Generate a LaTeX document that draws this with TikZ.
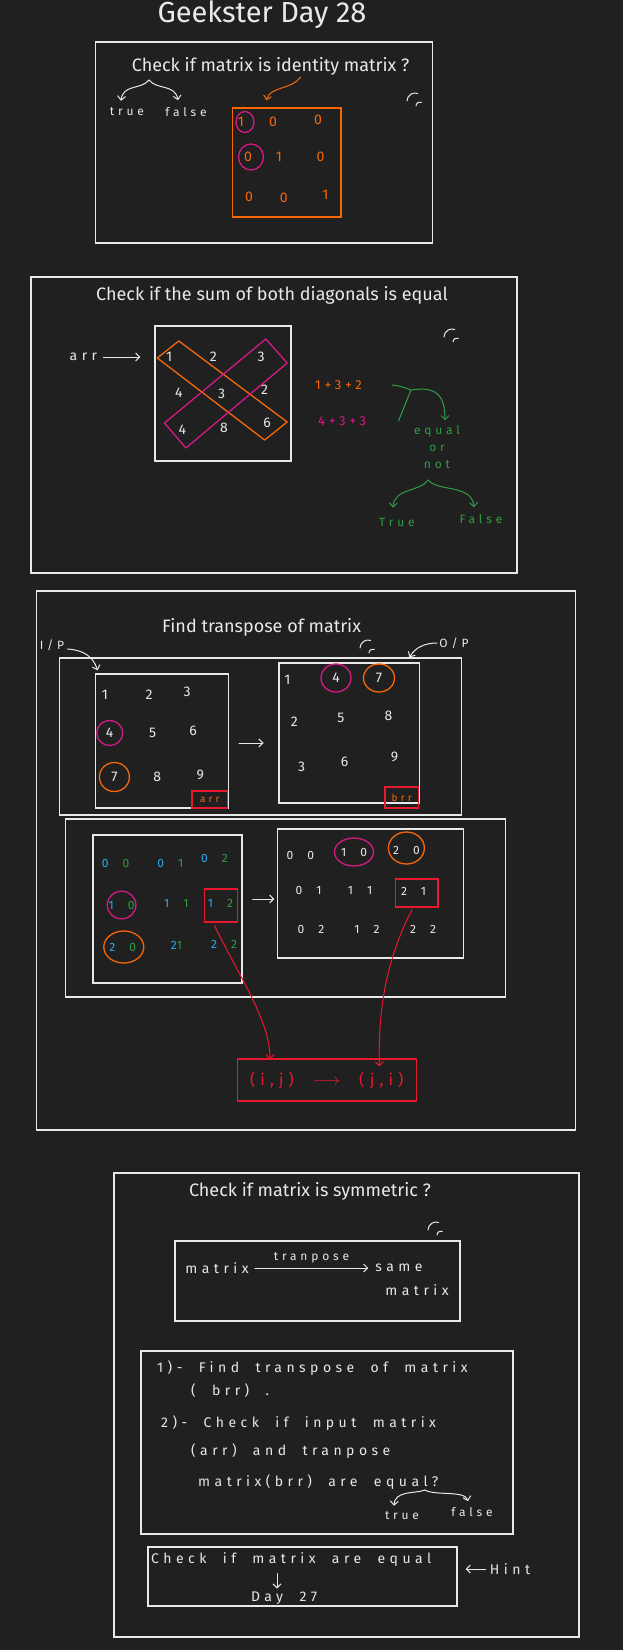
\documentclass[tikz,border=0pt]{standalone}
\usepackage{fontspec}
\setmainfont{Fira Sans}
\newfontfamily\handfont[LetterSpace=32,WordSpace=2]{Fira Sans}
\usetikzlibrary{arrows.meta,shapes.geometric,positioning,calc}
\definecolor{boardbg}{RGB}{32,32,32}
\definecolor{chalk}{RGB}{232,232,232}
\definecolor{markorange}{RGB}{247,103,7}
\definecolor{markpink}{RGB}{214,26,133}
\definecolor{markgreen}{RGB}{47,158,68}
\definecolor{markcyan}{RGB}{45,170,235}
\definecolor{markred}{RGB}{232,25,45}

\begin{document}
\begin{tikzpicture}[x=1pt,y=-1pt,
  frame/.style={draw=chalk,line width=1.3pt,inner sep=0pt},
  redbox/.style={draw=markred,line width=1.3pt,inner sep=0pt},
  heading/.style={text=chalk,font=\fontsize{18}{20}\selectfont},
  hand/.style={text=chalk,font=\handfont\fontsize{14}{16}\selectfont,inner sep=1pt},
  small/.style={hand,font=\handfont\fontsize{12}{14}\selectfont},
  entry/.style={text=chalk,font=\fontsize{14}{16}\selectfont,inner sep=1pt},
  idx/.style={text=chalk,font=\handfont\fontsize{12}{14}\selectfont,inner sep=1pt},
  chalkline/.style={draw=chalk,line width=1pt,line cap=round},
  arrow/.style={-{Straight Barb[length=4pt,width=8pt]},line width=1pt,color=chalk,line cap=round},
  oarrow/.style={arrow,color=markorange},
  garrow/.style={arrow,color=markgreen},
  rarrow/.style={arrow,color=markred}
]
\fill[boardbg] (0,0) rectangle (623,1650);
\useasboundingbox (0,0) rectangle (623,1650);

\node[text=chalk,font=\fontsize{29}{31}\selectfont] (title) at (262,15) {Geekster Day 28};

\node[frame,minimum width=337pt,minimum height=201pt] (box1) at (264,142.5) {};
\node[heading] (q1) at (270.6,66) {Check if matrix is identity matrix ?};
\coordinate (b1top) at (149,80);
\node[small] (t1) at (127,112) {true};
\node[small] (f1) at (186,112) {false};
\draw[arrow] (b1top) .. controls (141,90) and (123,84) .. ([xshift=-6pt,yshift=6pt]t1.north);
\draw[arrow] (b1top) .. controls (157,90) and (175,84) .. ([xshift=-8pt,yshift=6pt]f1.north);
\node[draw=markorange,line width=1.3pt,minimum width=108.5pt,minimum height=109pt] (omat) at (286.7,162.5) {};
\coordinate (oa) at (300.4,77);
\draw[oarrow] (oa) .. controls (292,90) and (270,86) .. ([xshift=34.6pt,yshift=7pt]omat.north west);
\node[entry,text=markorange] (m11) at (241,122) {1};
\node[entry,text=markorange] (m12) at (273,122) {0};
\node[entry,text=markorange] (m13) at (318,120) {0};
\node[entry,text=markorange] (m21) at (248,157) {0};
\node[entry,text=markorange] (m22) at (279,157) {1};
\node[entry,text=markorange] (m23) at (320.6,157) {0};
\node[entry,text=markorange] (m31) at (249,197) {0};
\node[entry,text=markorange] (m32) at (283.7,198) {0};
\node[entry,text=markorange] (m33) at (325.4,195) {1};
\draw[markpink,line width=1.3pt] ([xshift=4pt]m11.center) ellipse [x radius=9pt,y radius=10.5pt];
\draw[markpink,line width=1.3pt] ([xshift=3pt]m21.center) ellipse [x radius=12.5pt,y radius=13pt];
\draw[chalkline] (407,101) arc[start angle=180,end angle=70,radius=8pt];
\draw[chalkline] (416,106) arc[start angle=180,end angle=70,radius=4pt];

\node[frame,minimum width=486pt,minimum height=296pt] (box2) at (274,425) {};
\node[heading] (q2) at (272,295) {Check if the sum of both diagonals is equal};
\draw[chalkline] (444,337) arc[start angle=180,end angle=70,radius=8pt];
\draw[chalkline] (453,342) arc[start angle=180,end angle=70,radius=4pt];
\node[hand] (arrlbl) at (83.4,357) {arr};
\node[frame,minimum width=136pt,minimum height=135pt] (dmat) at (223,393.5) {};
\draw[arrow] ([xshift=5pt]arrlbl.east) -- ([xshift=-14pt]arrlbl.east -| dmat.west);
\draw[markorange,line width=1.3pt,line join=round] (157.3,358) -- (178.8,341) -- (287.2,422) -- (264.6,440) -- cycle;
\draw[markpink,line width=1.3pt,line join=round] (164.5,423) -- (265.8,339) -- (287.2,363) -- (185.9,448) -- cycle;
\node[entry] (d11) at (169.2,357) {1};
\node[entry] (d12) at (213.3,357) {2};
\node[entry] (d13) at (261,357) {3};
\node[entry] (d21) at (178.8,393) {4};
\node[entry] (d22) at (221.7,394) {3};
\node[entry] (d23) at (264.6,390) {2};
\node[entry] (d31) at (182.4,430) {4};
\node[entry] (d32) at (224,428) {8};
\node[entry] (d33) at (267,423) {6};
\node[hand,text=markorange,anchor=west,font=\handfont\fontsize{13}{15}\selectfont] (sum1) at (314,385) {1+3+2};
\node[hand,text=markpink,anchor=west,font=\handfont\fontsize{13}{15}\selectfont] (sum2) at (317,421) {4+3+3};
\coordinate (gfork) at (411,390);
\node[small,text=markgreen,align=center,font=\handfont\fontsize{12}{17}\selectfont] (eqnode) at (437,447) {equal\\or\\not};
\draw[markgreen,line width=1pt] (sum1.east -| 392,0) .. controls (400,386) .. (gfork);
\draw[markgreen,line width=1pt] (gfork) -- (sum2.east -| 398.5,0);
\draw[garrow] (gfork) .. controls (436,386) and (445,395) .. ([xshift=8pt,yshift=4pt]eqnode.north);
\coordinate (gsplit) at (428,480);
\node[small,text=markgreen] (trueg) at (397,522) {True};
\node[small,text=markgreen] (falseg) at (481,519) {False};
\draw[garrow] (gsplit) .. controls (420,492) and (394,488) .. ([xshift=-4pt,yshift=9pt]trueg.north);
\draw[garrow] (gsplit) .. controls (438,492) and (472,484) .. ([xshift=-7pt,yshift=6pt]falseg.north);

\node[frame,minimum width=539pt,minimum height=539pt] (box3) at (306.3,860.5) {};
\node[heading] (q3) at (261.6,627) {Find transpose of matrix};
\draw[chalkline] (360,648) arc[start angle=180,end angle=70,radius=8pt];
\draw[chalkline] (369,653) arc[start angle=180,end angle=70,radius=4pt];
\node[frame,minimum width=401.7pt,minimum height=157pt] (boxa) at (260.4,736.5) {};
\node[frame,minimum width=133.5pt,minimum height=134pt] (amat) at (162,741) {};
\node[frame,minimum width=140.6pt,minimum height=140pt] (bmat) at (349.2,733) {};
\node[small] (iplbl) at (52,645) {I/P};
\node[small] (oplbl) at (454,643) {O/P};
\draw[arrow] ([xshift=2pt,yshift=-4pt]iplbl.east) .. controls (83,650) and (93,656) .. ([xshift=3pt,yshift=3pt]amat.north west);
\draw[arrow] ([xshift=-1pt]oplbl.west) .. controls (424,643) and (415,648) .. ([xshift=-10.7pt,yshift=5pt]bmat.north east);
\node[entry] (a11) at (104.9,695) {1};
\node[entry] (a12) at (149,695) {2};
\node[entry] (a13) at (187,692) {3};
\node[entry] (a21) at (109.7,733) {4};
\node[entry] (a22) at (152.6,733) {5};
\node[entry] (a23) at (193,731) {6};
\node[entry] (a31) at (114.4,777) {7};
\node[entry] (a32) at (157.3,777) {8};
\node[entry] (a33) at (200.2,775) {9};
\draw[markpink,line width=1.3pt] (a21.center) ellipse [x radius=13pt,y radius=12.5pt];
\draw[markorange,line width=1.3pt] (a31.center) ellipse [x radius=15pt,y radius=14.5pt];
\node[redbox,minimum width=35.7pt,minimum height=17pt,text=markorange,font=\handfont\fontsize{10}{11}\selectfont] (arrtag) at (209.8,799.5) {arr};
\draw[arrow] ([xshift=9.6pt,yshift=-2pt]amat.east) -- ([xshift=-14.7pt,yshift=-2pt]amat.east -| bmat.west);
\node[entry] (b11) at (287.3,680) {1};
\node[entry] (b12) at (336,678) {4};
\node[entry] (b13) at (379,678) {7};
\node[entry] (b21) at (294.4,722) {2};
\node[entry] (b22) at (340.9,718) {5};
\node[entry] (b23) at (388.6,716) {8};
\node[entry] (b31) at (301.6,767) {3};
\node[entry] (b32) at (344.5,762) {6};
\node[entry] (b33) at (394.5,757) {9};
\draw[markpink,line width=1.3pt] (b12.center) ellipse [x radius=15pt,y radius=14pt];
\draw[markorange,line width=1.3pt] (b13.center) ellipse [x radius=15.5pt,y radius=14pt];
\node[redbox,minimum width=33.4pt,minimum height=21pt,text=markorange,font=\handfont\fontsize{10}{11}\selectfont] (brrtag) at (401.7,797.5) {brr};

\node[frame,minimum width=439.8pt,minimum height=178pt] (boxb) at (285.5,908) {};
\node[frame,minimum width=149pt,minimum height=148pt] (imat) at (167.5,909) {};
\node[frame,minimum width=186pt,minimum height=129pt] (jmat) at (370.7,893.5) {};
\node[idx] (i00) at (115.6,863) {\textcolor{markcyan}{0} \textcolor{markgreen}{0}};
\node[idx] (i01) at (170.4,863) {\textcolor{markcyan}{0} \textcolor{markgreen}{1}};
\node[idx] (i02) at (214.5,858) {\textcolor{markcyan}{0} \textcolor{markgreen}{2}};
\node[idx] (i10) at (121.6,905) {\textcolor{markcyan}{1} \textcolor{markgreen}{0}};
\node[idx] (i11) at (176.4,903) {\textcolor{markcyan}{1} \textcolor{markgreen}{1}};
\node[idx] (i12) at (220.5,903) {\textcolor{markcyan}{1} \textcolor{markgreen}{2}};
\node[idx] (i20) at (122.8,947) {\textcolor{markcyan}{2} \textcolor{markgreen}{0}};
\node[idx] (i21) at (176.4,945) {\textcolor{markcyan}{2}\textcolor{markgreen}{1}};
\node[idx] (i22) at (224,944) {\textcolor{markcyan}{2} \textcolor{markgreen}{2}};
\draw[markpink,line width=1.3pt] (i10.center) ellipse [x radius=14.3pt,y radius=13.8pt];
\draw[markorange,line width=1.3pt] ([xshift=1pt]i20.center) ellipse [x radius=20pt,y radius=16pt];
\node[redbox,minimum width=33pt,minimum height=33pt] (r12) at (221.1,905.5) {};
\draw[arrow] ([xshift=10pt,yshift=10pt]imat.east) -- ([xshift=-2.7pt,yshift=10pt]imat.east -| jmat.west);
\node[idx] (j00) at (300.4,855) {0 0};
\node[idx] (j10) at (354,852) {1 0};
\node[idx] (j20) at (406.4,850) {2 0};
\node[idx] (j01) at (308.7,890) {0 1};
\node[idx] (j11) at (360,890) {1 1};
\node[idx] (j21) at (413.6,891) {2 1};
\node[idx] (j02) at (311,929) {0 2};
\node[idx] (j12) at (367,929) {1 2};
\node[idx] (j22) at (423.1,929) {2 2};
\draw[markpink,line width=1.3pt] (j10.center) ellipse [x radius=19.5pt,y radius=14pt];
\draw[markorange,line width=1.3pt] ([yshift=2pt]j20.center) ellipse [x radius=18pt,y radius=16pt];
\node[redbox,minimum width=42.5pt,minimum height=28pt] (r21) at (416.6,893) {};
\node[redbox,minimum width=179.2pt,minimum height=42pt,text=markred,font=\handfont\fontsize{16}{18}\selectfont] (fbox) at (326.8,1080) {(i,j) $\longrightarrow$ (j,i)};
\draw[rarrow] ([xshift=-6.6pt,yshift=-3pt]r12.south) .. controls (244,985) and (269,1020) .. ([xshift=-56.6pt,yshift=-1pt]fbox.north);
\draw[rarrow] ([xshift=-4.6pt,yshift=-2pt]r21.south) .. controls (386,960) and (378,1010) .. ([xshift=52.6pt,yshift=-8pt]fbox.north);

\node[frame,minimum width=465pt,minimum height=464pt] (box4) at (346.5,1405) {};
\node[heading] (q4) at (310,1191) {Check if matrix is symmetric ?};
\draw[chalkline] (428,1230) arc[start angle=180,end angle=70,radius=8pt];
\draw[chalkline] (437,1235) arc[start angle=180,end angle=70,radius=4pt];
\node[frame,minimum width=285pt,minimum height=80pt] (symbox) at (317.5,1281) {};
\node[hand] (mlbl) at (217,1268) {matrix};
\node[hand] (same) at (399,1268) {same};
\node[hand] (smat) at (417,1290) {matrix};
\draw[arrow] ([xshift=5pt]mlbl.east) -- node[small,above=3pt] {tranpose} ([xshift=-6pt]same.west);
\node[frame,minimum width=372pt,minimum height=183pt] (stepsbox) at (327,1442.5) {};
\node[hand,anchor=west] (s1) at (156,1368) {1)- Find transpose of matrix};
\node[hand,anchor=west] (s1b) at (190,1391) {( brr) .};
\node[hand,anchor=west] (s2) at (160,1423) {2)- Check if input matrix};
\node[hand,anchor=west] (s2b) at (190,1451) {(arr) and tranpose};
\node[hand,anchor=west] (s2c) at (197,1482) {matrix(brr) are equal?};
\coordinate (sfork) at (425,1490);
\node[small] (t4) at (402,1516) {true};
\node[small] (f4) at (472,1512) {false};
\draw[arrow] (sfork) .. controls (415,1494) and (395,1490) .. ([xshift=-8pt,yshift=5pt]t4.north);
\draw[arrow] (sfork) .. controls (435,1496) and (465,1490) .. ([xshift=-4pt,yshift=5pt]f4.north);
\node[frame,minimum width=309pt,minimum height=59pt] (hintbox) at (302.5,1576.5) {};
\node[hand,anchor=west] (h1) at (150,1560) {Check if matrix are equal};
\node[hand] (day27) at (284,1598) {Day 27};
\draw[arrow] ([xshift=-7pt,yshift=17pt]day27.north) -- ([xshift=-7pt,yshift=2pt]day27.north);
\node[hand] (hint) at (510,1569) {Hint};
\draw[arrow] ([xshift=-3pt]hint.west) -- ([xshift=8pt]hint.west -| hintbox.east);
\end{tikzpicture}
\end{document}
